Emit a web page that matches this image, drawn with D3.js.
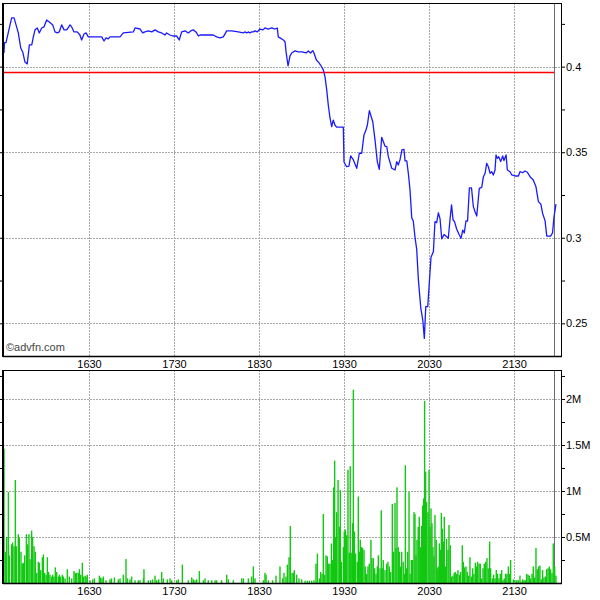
<!DOCTYPE html>
<html><head><meta charset="utf-8">
<script src="https://cdn.jsdelivr.net/npm/d3@7/dist/d3.min.js"></script>
<style>
body{margin:0;background:#fff}
text{font-family:"Liberation Sans",Arial,sans-serif;font-size:11px;fill:#000}
</style>
</head><body>
<svg id="chart" width="600" height="600"></svg>
<script>
// time = minutes after 15:30
const timeTicks = [60,120,180,240,300,360];
const timeTickLabels = ["1630","1730","1830","1930","2030","2130"];
const priceTicks = [0.25,0.3,0.35,0.4];
const priceTickLabels = ["0.25","0.3","0.35","0.4"];
const priceMinorTicks = [0.275,0.325,0.375,0.425];
const volTicks = [0.5,1,1.5,2];
const volTickLabels = ["0.5M","1M","1.5M","2M"];
const volMinorTicks = [0.25,0.75,1.25,1.75,2.25];
const refPrice = 0.397;
const lastTime = 388.4;
const credit = "©advfn.com";

const priceData = [[0,0.408],[0.3,0.414],[1.4,0.414],[5.4,0.4285],[7.1,0.4285],[8.5,0.4244],[10.1,0.4197],[11.8,0.4109],[13.2,0.4086],[14.8,0.4027],[16.4,0.4016],[17.9,0.4127],[19.6,0.4127],[20.7,0.4174],[21.9,0.4215],[23.5,0.4226],[24.9,0.4197],[26.6,0.4226],[28.2,0.4232],[30.1,0.4273],[32,0.4261],[34.4,0.4244],[36,0.4203],[37.6,0.4197],[39,0.4203],[40.7,0.4244],[42.4,0.4215],[44.3,0.4215],[46.6,0.4244],[47.8,0.4232],[49.4,0.4203],[51.7,0.4203],[53.6,0.4185],[54.8,0.4156],[56.5,0.4191],[57.9,0.4197],[59.5,0.4174],[69,0.4174],[70.6,0.415],[72,0.4168],[73.6,0.4162],[74.8,0.4174],[81.9,0.4174],[84.2,0.4197],[91.3,0.4203],[92.5,0.4226],[96,0.422],[97.9,0.4197],[99.5,0.4203],[101.9,0.4209],[104.3,0.4203],[106.6,0.4215],[108.9,0.4203],[111.3,0.4197],[113.6,0.4185],[114.8,0.4197],[117.2,0.4185],[119.5,0.4179],[121.9,0.4179],[123.7,0.4156],[125.4,0.4203],[127.8,0.4209],[130.1,0.4197],[131.8,0.4209],[133.6,0.4215],[135.5,0.4203],[137.2,0.4179],[138.4,0.4185],[147.7,0.4185],[150.1,0.4174],[152.5,0.4168],[154.8,0.4174],[157.2,0.4209],[160.7,0.4209],[165.4,0.4203],[168.9,0.4197],[170.1,0.4203],[171.3,0.4197],[172.4,0.4203],[173.6,0.4197],[174.8,0.4203],[176,0.4203],[177.2,0.4209],[178.8,0.4203],[180.7,0.422],[182.8,0.4215],[184.2,0.4226],[186.4,0.422],[189,0.4226],[191.3,0.422],[192.9,0.4226],[193.6,0.4174],[194.8,0.4168],[197.2,0.4156],[198.4,0.4144],[199.1,0.4086],[200.5,0.4004],[201.9,0.4063],[203.1,0.408],[205.4,0.4092],[207.7,0.4086],[210.4,0.4086],[213.2,0.408],[214.8,0.4092],[216.4,0.408],[217.9,0.4094],[218.8,0.408],[220.5,0.4039],[222.4,0.4022],[224.3,0.3998],[225.4,0.3981],[226.6,0.394],[227.8,0.3864],[228.9,0.3776],[230.1,0.37],[231.3,0.3649],[232.4,0.3688],[233.6,0.3659],[234.8,0.3647],[239.5,0.3647],[240,0.3443],[241.9,0.3415],[243.5,0.3419],[244.7,0.3478],[246.6,0.3455],[249,0.3406],[250.8,0.3494],[252.5,0.3494],[254.1,0.3601],[255.5,0.363],[256.5,0.3659],[257.9,0.3743],[260.3,0.3678],[261.9,0.3571],[263.5,0.3445],[264.9,0.34],[266.6,0.3587],[268.9,0.3536],[270.2,0.3532],[271.3,0.3474],[273.7,0.3406],[276,0.3396],[277.2,0.3445],[278.3,0.3425],[279.5,0.3455],[280.9,0.3513],[282.3,0.3517],[283.1,0.3449],[284.3,0.3449],[285.4,0.3377],[286.6,0.3279],[287.8,0.3116],[288.9,0.3098],[290.1,0.3004],[291.3,0.2934],[292.5,0.2754],[294.2,0.2589],[295.6,0.2519],[296.7,0.2412],[297.7,0.2597],[299.1,0.2597],[300.2,0.2736],[301.4,0.2886],[303.1,0.2919],[304.2,0.3094],[305.4,0.3088],[306.6,0.3146],[307.8,0.311],[309,0.2993],[310.6,0.3019],[312.5,0.3006],[313.6,0.2997],[314.8,0.3104],[315.9,0.3192],[317,0.3104],[318,0.3094],[319.5,0.3051],[321.4,0.3016],[322.6,0.2997],[323.8,0.3045],[324.9,0.3028],[326.1,0.3098],[327.2,0.3098],[328.5,0.3291],[330,0.3291],[331.3,0.3182],[332.5,0.3152],[333.7,0.3127],[335.5,0.3289],[337.2,0.3295],[338.4,0.3357],[339.6,0.3377],[340.7,0.3435],[341.9,0.3415],[343.1,0.3377],[344.3,0.3386],[345.4,0.3367],[346.6,0.3396],[347.3,0.3484],[348.2,0.3464],[349.2,0.3474],[350.6,0.3445],[352,0.3478],[352.9,0.3451],[354.4,0.3484],[355.3,0.3396],[357.2,0.3386],[358.4,0.3367],[360.7,0.3361],[363.1,0.3361],[364.2,0.3386],[366.1,0.338],[367.8,0.339],[369.4,0.3383],[371.3,0.3357],[373.6,0.3338],[375.5,0.3298],[377.2,0.3211],[378.9,0.3197],[380.3,0.3139],[381.9,0.31],[383.1,0.301],[385.8,0.301],[387.2,0.3028],[388.2,0.3121],[389.6,0.3197]];

// volume in millions
const volumeData = [[0,1.46],[0.9,0.34],[1.9,0.5],[3.1,0.99],[3.8,0.3],[5.4,0.42],[6.1,0.44],[7.1,0.4],[8,1.12],[8.7,0.4],[10.1,0.53],[10.8,0.49],[12,0.34],[12.9,0.21],[13.6,0.22],[14.6,0.3],[15.8,0.53],[16.7,0.42],[17.6,0.53],[18.4,0.26],[19.5,0.57],[20.2,0.5],[21.2,0.4],[22.1,0.34],[23.1,0.11],[24.2,0.23],[24.9,0.22],[25.9,0.14],[27.1,0.28],[27.8,0.31],[28.7,0.11],[29.7,0.09],[30.6,0.28],[31.5,0.12],[32.5,0.09],[33.7,0.07],[34.4,0.09],[35.3,0.07],[36.2,0.17],[37.2,0.12],[38.4,0.07],[39.1,0.09],[40,0.07],[41.2,0.09],[41.9,0.07],[43.1,0.05],[44.7,0.15],[46.1,0.07],[47.8,0.05],[49.4,0.13],[50.4,0.11],[51.3,0.11],[52.5,0.11],[53.2,0.15],[54.1,0.09],[55.3,0.22],[56,0.07],[57.2,0.08],[57.9,0.07],[58.8,0.09],[60.7,0.03],[62.6,0.04],[63.8,0.05],[67.3,0.08],[68.2,0.06],[69.2,0.05],[70.1,0.07],[72,0.03],[74.8,0.04],[75.8,0.05],[77.9,0.06],[80.7,0.04],[81.9,0.05],[84.2,0.09],[86.1,0.26],[87.1,0.05],[88.9,0.04],[90.1,0.07],[92.5,0.03],[94.8,0.03],[96,0.03],[98.4,0.05],[98.8,0.15],[101.9,0.03],[103.5,0.03],[104.9,0.04],[106.6,0.08],[107.8,0.03],[109.2,0.04],[111.3,0.12],[112.5,0.05],[115.3,0.04],[117.2,0.05],[118.4,0.03],[121.9,0.03],[123.1,0.04],[125.9,0.2],[130.1,0.03],[132.5,0.06],[133.6,0.04],[134.8,0.03],[136,0.04],[137.9,0.13],[140.7,0.03],[141.9,0.05],[144.2,0.03],[146.6,0.03],[149,0.03],[150.1,0.03],[153.6,0.03],[157.2,0.09],[158.4,0.04],[161.9,0.03],[167.8,0.05],[169,0.05],[172.5,0.05],[174.8,0.07],[176,0.18],[177.2,0.05],[183.1,0.03],[184.2,0.11],[185,0.09],[186.6,0.03],[189.6,0.03],[192,0.08],[194.8,0.18],[196.7,0.05],[197.6,0.11],[199,0.07],[200,0.2],[201.2,0.28],[202.1,0.62],[203.3,0.11],[204.2,0.11],[204.9,0.14],[206.6,0.09],[208.2,0.05],
[210.1,0.04],[212.5,0.025],[214.1,0.025],[215.5,0.025],[217.2,0.025],[218.8,0.03],[220.2,0.21],[221.2,0.32],[222.6,0.05],[223.5,0.12],[224.5,0.1],[225.4,0.75],[226.4,0.09],[227.3,0.3],[228.2,0.29],[229.2,0.21],[230.1,0.21],[231.1,0.43],[232,0.25],[232.7,1.04],[233.4,1.33],[234.1,0.5],[234.8,0.77],[235.8,1.12],[236.7,0.61],[237.4,1.01],[238.1,0.23],[239.5,0.39],[240.2,0.56],[240.9,0.58],[241.9,0.52],[242.8,1.23],[243.7,0.33],[244.4,1.27],[245.1,0.33],[246.1,0.65],[246.6,2.1],[247.3,0.56],[248.2,0.32],[249.4,0.23],[250.1,0.94],[250.8,0.34],[251.5,0.47],[252.4,0.39],[253.1,0.38],[254.1,0.36],[255,0.18],[256,0.1],[256.9,0.18],[257.8,0.21],[259,0.47],[259.7,0.27],[260.7,0.27],[261.6,0.16],[262.6,0.1],[263.5,0.18],[264.2,0.3],[265.4,0.16],[266.3,0.79],[267,0.16],[267.7,0.25],[268.9,0.14],[270.1,0.21],[271,0.23],[272,0.18],[272.9,0.12],[274.1,0.86],[275,0.34],[276,0.87],[276.7,0.38],[277.4,1.04],[278.3,0.39],[279,0.34],[280,0.18],[280.7,0.34],[281.8,0.23],[282.8,0.1],[283.3,1.28],[284.2,0.16],[284.9,0.34],[285.9,0.99],[286.6,0.1],[287.5,0.25],[288.4,0.25],[289.4,0.77],[290.1,0.75],[290.8,0.3],[291.5,0.47],[292.4,0.61],[293.1,0.72],[294.1,0.39],[294.8,0.62],[295.5,0.84],[296.2,0.92],[296.9,1.98],[297.6,1.21],[298.3,0.88],[299.3,0.77],[300,1.23],[300.7,0.61],[301.4,0.81],[302.1,0.65],[302.8,0.39],[303.5,0.29],[304.2,0.74],[305.1,0.47],[305.8,0.16],[306.5,0.18],[307.3,0.43],[308,0.36],[308.7,0.76],[309.4,0.59],[310.1,0.45],[310.8,0.72],[311.5,0.18],[312.4,0.48],[313.4,0.36],[314.1,0.63],[315,0.41],[316,0.07],[316.9,0.08],[317.8,0.11],[318.5,0.12],[319.5,0.1],[320.4,0.14],[321.4,0.09],[322.3,0.12],[323.5,0.41],[324.2,0.23],[325.1,0.17],[326.1,0.18],[327,0.12],[328,0.08],[328.9,0.28],[329.9,0.07],[330.8,0.16],[331.7,0.1],[332.7,0.22],[333.4,0.18],[334.3,0.23],[335.3,0.21],[336.2,0.21],[337.1,0.05],[338.1,0.16],[339,0.21],[340,0.23],[340.9,0.27],[341.8,0.16],[342.8,0.45],[343.5,0.16],[344.7,0.05],[345.6,0.09],[346.6,0.05],[347.5,0.14],[348.4,0.1],[349.4,0.05],[350.3,0.1],[351.3,0.14],[352.2,0.03],[353.1,0.05],[354.1,0.1],[355,0.1],[356,0.18],[356.9,0.1],[357.6,0.25],[359.5,0.04],[360.7,0.03],[361.9,0.03],[363,0.03],[364.2,0.08],[365.1,0.015],[366.1,0.04],[367,0.03],[368,0.03],[368.9,0.1],[369.9,0.09],[370.8,0.08],[371.7,0.05],[372.7,0.1],[373.6,0.18],[374.6,0.06],[375.5,0.38],[376.4,0.15],[377.4,0.18],[378.3,0.19],[379.3,0.04],[380.2,0.14],[381.1,0.06],[382.1,0.07],[383,0.15],[384,0.16],[384.9,0.18],[385.8,0.15],[386.8,0.11],[387.7,0.43],[388.7,0.18],[389.6,0.08]];

const svg = d3.select("#chart");
const L = 3, R = 562;
const top1 = 3, bot1 = 356, top2 = 370, bot2 = 583;

const x = d3.scaleLinear().domain([0, 395]).range([4, 563.6]);
const yP = d3.scaleLinear().domain([0.2309, 0.4372]).range([bot1, top1]);
const yV = d3.scaleLinear().domain([0, 2.315]).range([bot2, top2]);

const defs = svg.append("defs");
defs.append("clipPath").attr("id","c1").append("rect").attr("x",L).attr("y",top1).attr("width",R-L).attr("height",bot1-top1);
defs.append("clipPath").attr("id","c2").append("rect").attr("x",L).attr("y",top2).attr("width",R-L).attr("height",bot2-top2);

const gridCol = "#a8a8a8";
function grid(g, top, bot, yScale, yTicks) {
  g.selectAll("line.v").data(timeTicks).join("line").attr("class","v")
    .attr("x1", d => Math.round(x(d)) + 0.5).attr("x2", d => Math.round(x(d)) + 0.5)
    .attr("y1", top).attr("y2", bot)
    .attr("stroke", gridCol).attr("stroke-dasharray","2,1");
  g.selectAll("line.h").data(yTicks).join("line").attr("class","h")
    .attr("x1", L).attr("x2", R)
    .attr("y1", d => Math.round(yScale(d)) + 0.5).attr("y2", d => Math.round(yScale(d)) + 0.5)
    .attr("stroke", gridCol).attr("stroke-dasharray","2,1");
  g.append("line").attr("x1", Math.round(x(lastTime)) + 0.5).attr("x2", Math.round(x(lastTime)) + 0.5)
    .attr("y1", top).attr("y2", bot).attr("stroke","#6e6e6e");
}

// ---- price panel
const g1 = svg.append("g");
grid(g1, top1, bot1, yP, priceTicks);
g1.append("line").attr("x1", L).attr("x2", x(lastTime))
  .attr("y1", Math.round(yP(refPrice)) + 0.5).attr("y2", Math.round(yP(refPrice)) + 0.5)
  .attr("stroke","#ff0000").attr("stroke-width",1.6);
g1.append("path").datum(priceData).attr("clip-path","url(#c1)")
  .attr("fill","none").attr("stroke","#1a1aff").attr("stroke-width",1.3)
  .attr("stroke-linejoin","round")
  .attr("d", d3.line().x(d => x(d[0])).y(d => yP(d[1])));
g1.append("text").attr("x", 6).attr("y", 351).attr("fill","#444").style("fill","#444").text(credit);

// ---- volume panel
const g2 = svg.append("g");
grid(g2, top2, bot2, yV, volTicks);
g2.append("g").attr("clip-path","url(#c2)").selectAll("rect").data(volumeData).join("rect")
  .attr("x", d => x(d[0]) - 0.7).attr("width", 1.4)
  .attr("y", d => yV(d[1])).attr("height", d => bot2 - yV(d[1]))
  .attr("fill","#12c812");

// ---- frames
function frame(top, bot) {
  svg.append("rect").attr("x", L + 0.5).attr("y", top + 0.5).attr("width", R - L - 1).attr("height", bot - top)
    .attr("fill","none").attr("stroke","#000");
  svg.append("line").attr("x1", L).attr("x2", L).attr("y1", top).attr("y2", bot + 1).attr("stroke","#000").attr("stroke-width",2);
  svg.append("line").attr("x1", L).attr("x2", R).attr("y1", bot + 0.5).attr("y2", bot + 0.5).attr("stroke","#000").attr("stroke-width",1.5);
}
frame(top1, bot1);
frame(top2, bot2);

// ---- axes
function styleAxis(g) {
  g.select(".domain").remove();
  g.selectAll("text").style("font-family",'"Liberation Sans",Arial,sans-serif').style("font-size","11px").attr("fill","#000");
  g.selectAll(".tick line").attr("stroke","#000");
}
svg.append("g").attr("transform",`translate(${R},0)`)
  .call(d3.axisRight(yP).tickValues(priceTicks).tickFormat((d,i)=>priceTickLabels[i]).tickSize(3).tickPadding(1)).call(styleAxis);
svg.append("g").attr("transform",`translate(${R},0)`)
  .call(d3.axisRight(yP).tickValues(priceMinorTicks).tickFormat("").tickSize(3)).call(styleAxis);
svg.append("g").attr("transform",`translate(${L},0)`)
  .call(d3.axisLeft(yP).tickValues(priceMinorTicks.concat(priceTicks)).tickFormat("").tickSize(3)).call(styleAxis);
svg.append("g").attr("transform",`translate(${R},0)`)
  .call(d3.axisRight(yV).tickValues(volTicks).tickFormat((d,i)=>volTickLabels[i]).tickSize(3).tickPadding(1)).call(styleAxis);
svg.append("g").attr("transform",`translate(${R},0)`)
  .call(d3.axisRight(yV).tickValues(volMinorTicks).tickFormat("").tickSize(3)).call(styleAxis);
svg.append("g").attr("transform",`translate(${L},0)`)
  .call(d3.axisLeft(yV).tickValues(volMinorTicks.concat(volTicks)).tickFormat("").tickSize(3)).call(styleAxis);

svg.append("g").attr("transform",`translate(0,${bot1})`)
  .call(d3.axisBottom(x).tickValues(timeTicks).tickFormat((d,i)=>timeTickLabels[i]).tickSize(0).tickPadding(4)).call(styleAxis);
svg.append("g").attr("transform",`translate(0,${bot2})`)
  .call(d3.axisBottom(x).tickValues(timeTicks).tickFormat((d,i)=>timeTickLabels[i]).tickSize(0).tickPadding(4)).call(styleAxis);
</script>
</body></html>
